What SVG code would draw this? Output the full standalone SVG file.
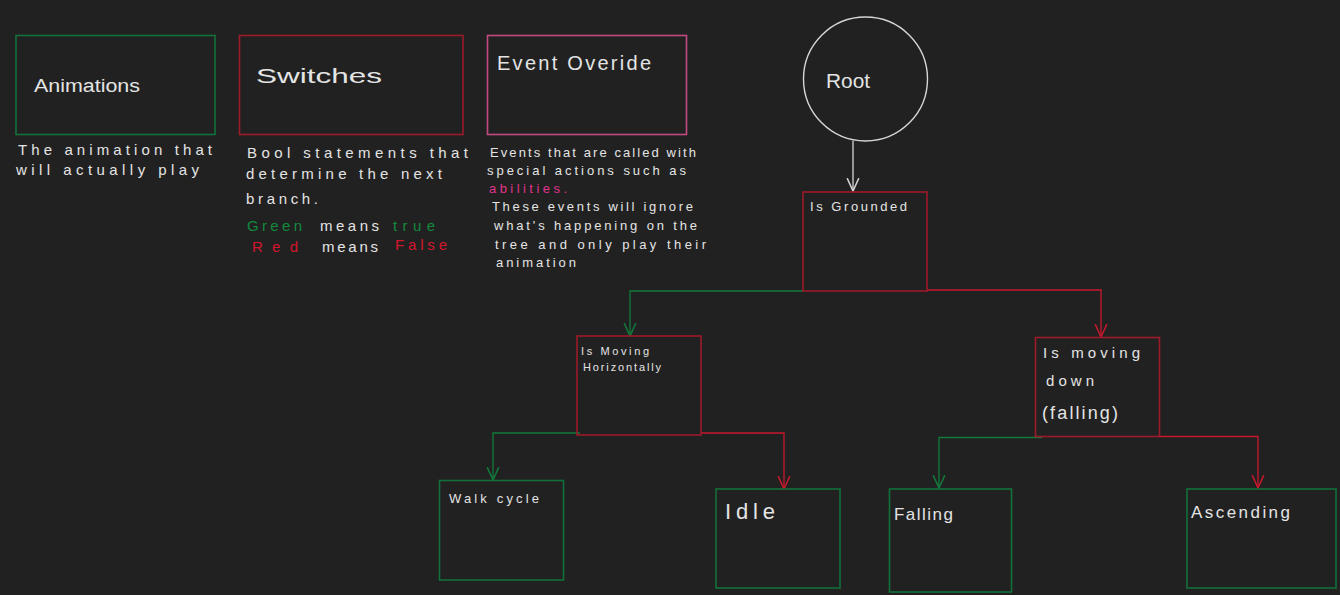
<svg xmlns="http://www.w3.org/2000/svg" width="1340" height="595" viewBox="0 0 1340 595">
  <style>
    .t { font-family: "Liberation Sans", "DejaVu Sans", sans-serif; fill: #e4e4e4; }
    .bg { fill: none; stroke: #13703a; stroke-width: 1.6; }
    .br { fill: none; stroke: #9c1b2a; stroke-width: 1.6; }
    .bp { fill: none; stroke: #c24a82; stroke-width: 1.6; }
    .cg { fill: none; stroke: #137a3d; stroke-width: 1.3; }
    .cr { fill: none; stroke: #c8182c; stroke-width: 1.3; }
    .cw { fill: none; stroke: #d6d6d6; stroke-width: 1.3; }
    .gt { fill: #138a3c; }
    .rt { fill: #d4162c; }
    .pt { fill: #e0348c; }
  </style>
  <defs>
    <marker id="ag" markerUnits="userSpaceOnUse" markerWidth="14" markerHeight="14" viewBox="0 0 12 12" refX="11" refY="6" orient="auto">
      <path d="M0,1 L11,6 L0,11" fill="none" stroke="#137a3d" stroke-width="1.3"/>
    </marker>
    <marker id="ar" markerUnits="userSpaceOnUse" markerWidth="14" markerHeight="14" viewBox="0 0 12 12" refX="11" refY="6" orient="auto">
      <path d="M0,1 L11,6 L0,11" fill="none" stroke="#c8182c" stroke-width="1.3"/>
    </marker>
    <marker id="aw" markerUnits="userSpaceOnUse" markerWidth="14" markerHeight="14" viewBox="0 0 12 12" refX="11" refY="6" orient="auto">
      <path d="M0,1 L11,6 L0,11" fill="none" stroke="#d6d6d6" stroke-width="1.3"/>
    </marker>
  </defs>
  <rect x="0" y="0" width="1340" height="595" fill="#212121"/>

  <g id="connectors">
    <path class="cw" d="M853,141 L853,191" marker-end="url(#aw)"/>
    <path class="cg" d="M803,291 L630,291 L630,336" marker-end="url(#ag)"/>
    <path class="cr" d="M927,290 L1101,290 L1101,337" marker-end="url(#ar)"/>
    <path class="cg" d="M580,433 L493,433 L493,480" marker-end="url(#ag)"/>
    <path class="cr" d="M701,433 L784,433 L784,489" marker-end="url(#ar)"/>
    <path class="cg" d="M1042,437.5 L939,437.5 L939,488" marker-end="url(#ag)"/>
    <path class="cr" d="M1159,436.5 L1258,436.5 L1258,488" marker-end="url(#ar)"/>
  </g>

  <g id="legend-animations">
    <rect class="bg" x="16" y="35.5" width="199" height="99"/>
    <text class="t" x="34" y="92" font-size="18" textLength="106" lengthAdjust="spacingAndGlyphs">Animations</text>
    <text class="t" x="18" y="155" font-size="15" textLength="194" lengthAdjust="spacing">The animation that</text>
    <text class="t" x="16" y="175" font-size="15" textLength="183" lengthAdjust="spacing">will actually play</text>
  </g>

  <g id="legend-switches">
    <rect class="br" x="239.5" y="35.5" width="223.5" height="99"/>
    <text class="t" x="256" y="83" font-size="20" textLength="126" lengthAdjust="spacingAndGlyphs">Switches</text>
    <text class="t" x="247" y="158" font-size="15" textLength="221" lengthAdjust="spacing">Bool statements that</text>
    <text class="t" x="246" y="179" font-size="15" textLength="196" lengthAdjust="spacing">determine the next</text>
    <text class="t" x="246" y="204" font-size="15" textLength="72" lengthAdjust="spacing">branch.</text>
    <text class="t gt" x="247" y="231" font-size="15" textLength="55" lengthAdjust="spacing">Green</text>
    <text class="t" x="320" y="231" font-size="15" textLength="59" lengthAdjust="spacing">means</text>
    <text class="t gt" x="393" y="231" font-size="15" textLength="42" lengthAdjust="spacing">true</text>
    <text class="t rt" x="252" y="252" font-size="15" textLength="46" lengthAdjust="spacing">Red</text>
    <text class="t" x="322" y="252" font-size="15" textLength="56" lengthAdjust="spacing">means</text>
    <text class="t rt" x="395" y="250" font-size="15" textLength="52" lengthAdjust="spacing">False</text>
  </g>

  <g id="legend-event-override">
    <rect class="bp" x="487.5" y="35.5" width="199" height="99"/>
    <text class="t" x="497" y="70" font-size="20" textLength="154" lengthAdjust="spacing">Event Overide</text>
    <text class="t" x="490" y="157" font-size="13" textLength="206" lengthAdjust="spacing">Events that are called with</text>
    <text class="t" x="487" y="175" font-size="13" textLength="199" lengthAdjust="spacing">special actions such as</text>
    <text class="t pt" x="489" y="193" font-size="13" textLength="78" lengthAdjust="spacing">abilities.</text>
    <text class="t" x="492" y="211" font-size="13" textLength="201" lengthAdjust="spacing">These events will ignore</text>
    <text class="t" x="494" y="230" font-size="13" textLength="203" lengthAdjust="spacing">what's happening on the</text>
    <text class="t" x="495" y="249" font-size="13" textLength="211" lengthAdjust="spacing">tree and only play their</text>
    <text class="t" x="496" y="267" font-size="13" textLength="80" lengthAdjust="spacing">animation</text>
  </g>

  <g id="node-root">
    <circle cx="865.5" cy="79" r="62" fill="none" stroke="#d6d6d6" stroke-width="1.4"/>
    <text class="t" x="826" y="88" font-size="20" textLength="44" lengthAdjust="spacingAndGlyphs">Root</text>
  </g>

  <g id="node-is-grounded">
    <rect class="br" x="803" y="192" width="124" height="99"/>
    <text class="t" x="810" y="211" font-size="13" textLength="97" lengthAdjust="spacing">Is Grounded</text>
  </g>

  <g id="node-is-moving-horizontally">
    <rect class="br" x="577" y="336" width="124" height="99"/>
    <text class="t" x="581" y="355" font-size="11" textLength="68" lengthAdjust="spacing">Is Moving</text>
    <text class="t" x="583" y="371" font-size="11" textLength="78" lengthAdjust="spacing">Horizontally</text>
  </g>

  <g id="node-is-moving-down">
    <rect class="br" x="1035.5" y="337.5" width="124" height="99"/>
    <text class="t" x="1043" y="358" font-size="15" textLength="97" lengthAdjust="spacing">Is moving</text>
    <text class="t" x="1046" y="386" font-size="15" textLength="48" lengthAdjust="spacing">down</text>
    <text class="t" x="1042" y="419" font-size="18" textLength="76" lengthAdjust="spacing">(falling)</text>
  </g>

  <g id="node-walk-cycle">
    <rect class="bg" x="439.5" y="480.5" width="124" height="99.5"/>
    <text class="t" x="449" y="503" font-size="13" textLength="90" lengthAdjust="spacing">Walk cycle</text>
  </g>

  <g id="node-idle">
    <rect class="bg" x="716" y="489" width="124" height="99"/>
    <text class="t" x="725" y="519" font-size="22" textLength="50" lengthAdjust="spacing">Idle</text>
  </g>

  <g id="node-falling">
    <rect class="bg" x="889.5" y="489" width="122" height="103"/>
    <text class="t" x="894" y="520" font-size="17" textLength="59" lengthAdjust="spacing">Falling</text>
  </g>

  <g id="node-ascending">
    <rect class="bg" x="1187" y="489" width="149" height="99"/>
    <text class="t" x="1191" y="518" font-size="17" textLength="99" lengthAdjust="spacing">Ascending</text>
  </g>
</svg>
